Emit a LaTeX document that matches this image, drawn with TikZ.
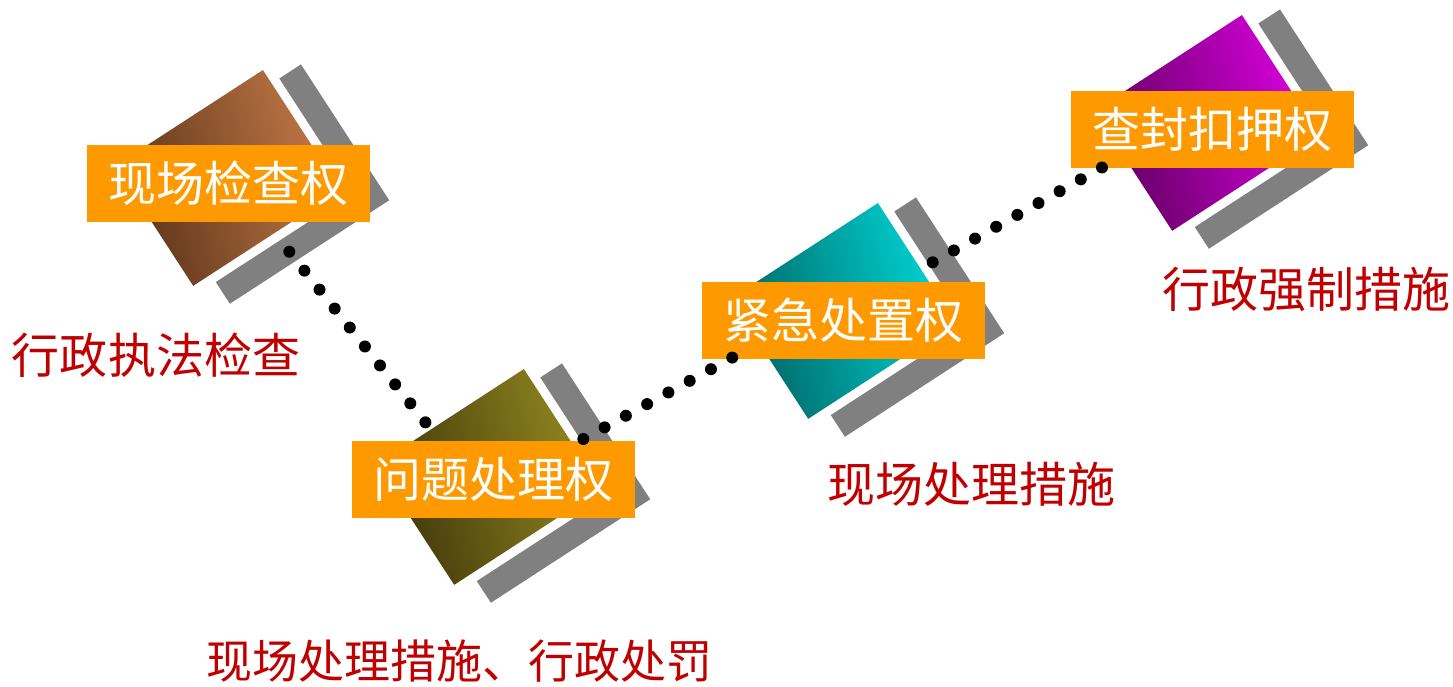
\documentclass[tikz,border=0pt]{standalone}
\usepackage{xcolor}
\usepackage{fontspec}
\newfontfamily\cjk{Noto Sans CJK SC}
\usepackage{tikz}

\definecolor{quanorange}{HTML}{FF9900}
\definecolor{notered}{HTML}{C00000}
\definecolor{barbgray}{HTML}{808080}

\tikzset{
	quan/.style={fill=quanorange, text=white, minimum width=283pt, minimum height=77pt, inner sep=0pt, font=\cjk\fontsize{48}{48}\selectfont},
	note/.style={text=notered, inner sep=0pt, font=\cjk\fontsize{48}{48}\selectfont},
	dots/.style={line width=12pt, line cap=round, dash pattern=on 0pt off 24.25pt}
}

\begin{document}
\begin{tikzpicture}[x=1pt,y=-1pt]
		\useasboundingbox (0,0) rectangle (1453,686);
		
		% tilted blocks: top corner, light and dark shade
		\foreach \tx/\ty/\light/\dark in {
			263/70/C47A48/5A3318,
			524/369/958A20/3E350A,
			878/203/00D8D8/006262,
			1242/15/DC00E0/5E005E}{
			\definecolor{lightc}{HTML}{\light}
			\definecolor{darkc}{HTML}{\dark}
			\begin{scope}[shift={(\tx-147.7,\ty+95.9)}, rotate=33]
				\fill[barbgray] (21,16) rectangle (211,178);
				\draw[white, line width=18pt] (0,0) rectangle (176,143);
				\shade[top color=lightc, bottom color=darkc, shading angle=-75] (0,0) rectangle (176,143);
			\end{scope}
		}
		
		\node[quan] (q1) at (228.7,183) {现场检查权};
		\node[quan] (q2) at (493.7,479.5) {问题处理权};
		\node[quan] (q3) at (843.7,320.7) {紧急处置权};
		\node[quan] (q4) at (1212.2,129.5) {查封扣押权};
		
		\node[note] (n1) at (156,355) {行政执法检查};
		\node[note, font=\cjk\fontsize{46}{46}\selectfont] (n2) at (459,661) {现场处理措施、行政处罚};
		\node[note] (n3) at (971.5,484) {现场处理措施};
		\node[note] (n4) at (1306,289) {行政强制措施};
		
		\coordinate (p1) at (289.3,251.7);
		\coordinate (p2) at (425.7,422.7);
		\coordinate (p3) at (583.3,439);
		\coordinate (p4) at (732.7,357.3);
		\coordinate (p5) at (932.7,262.3);
		\coordinate (p6) at (1102.3,167.3);
		\draw[dots] (p1) -- (p2);
		\draw[dots] (p3) -- (p4);
		\draw[dots] (p5) -- (p6);
	\end{tikzpicture}
\end{document}
